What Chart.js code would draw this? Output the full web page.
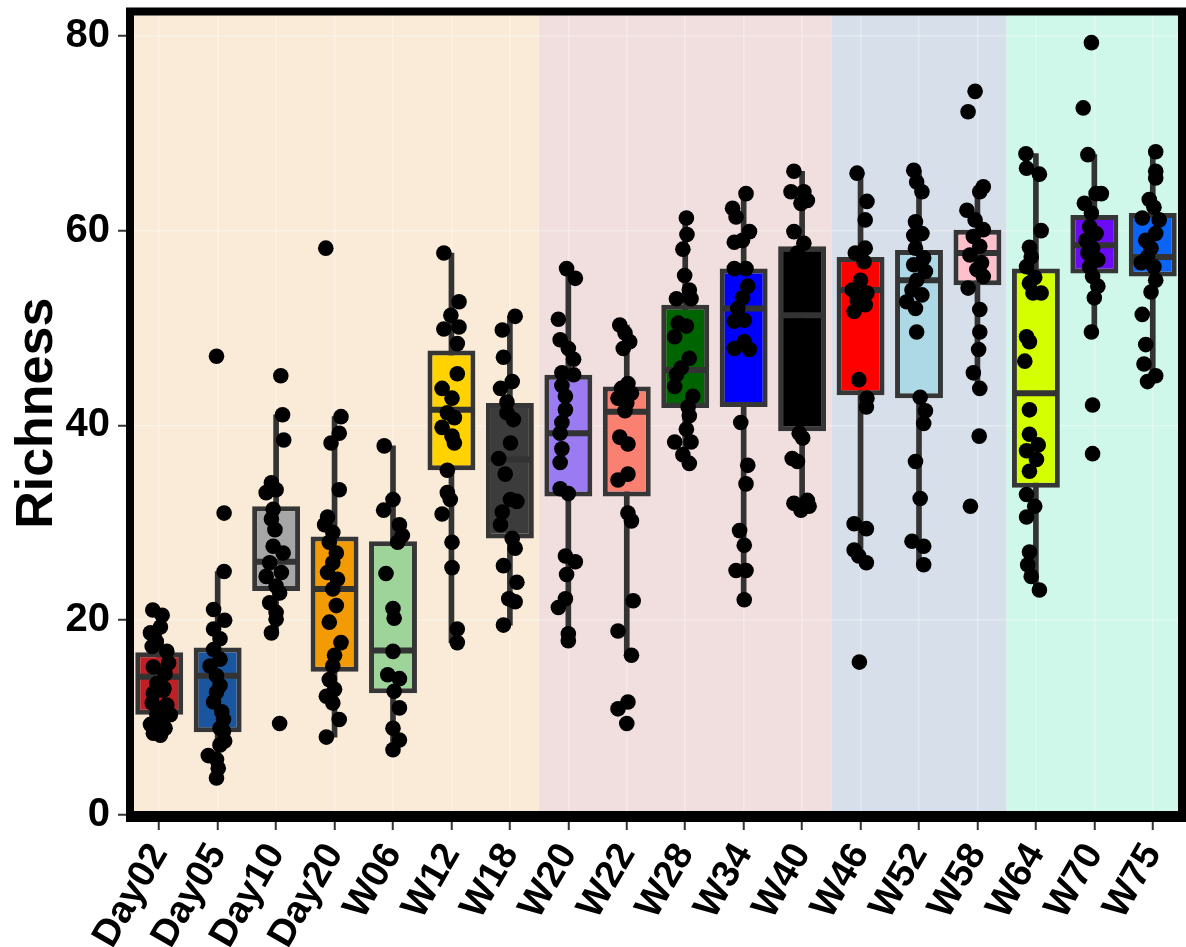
<!DOCTYPE html>
<html>
<head>
<meta charset="utf-8">
<script src="https://cdn.jsdelivr.net/npm/chart.js@4/dist/chart.umd.min.js"></script>
<style>
  html, body { margin: 0; padding: 0; background: #fff; }
  #wrap { width: 1186px; height: 947px; }
</style>
</head>
<body>
<div id="wrap"><canvas id="richness" width="1186" height="947"></canvas></div>
<script>
// sampling points on the x axis
const groups = ["Day02", "Day05", "Day10", "Day20", "W06", "W12", "W18", "W20", "W22",
                "W28", "W34", "W40", "W46", "W52", "W58", "W64", "W70", "W75"];

// box statistics
const q1        = [10.3,  8.5, 23.0, 14.7, 12.5, 35.4, 28.4, 32.7, 32.7, 41.8, 41.9, 39.4, 43.1, 42.8, 54.4, 33.6, 55.6, 55.3];
const q3        = [16.7, 17.2, 31.7, 28.6, 28.1, 47.7, 42.3, 45.2, 44.0, 52.4, 56.1, 58.4, 57.3, 58.0, 60.1, 56.1, 61.6, 61.8];
const medians   = [14.2, 14.3, 26.0, 23.2, 16.9, 41.6, 36.5, 39.2, 41.4, 45.7, 52.0, 51.3, 53.9, 54.9, 57.7, 43.3, 58.5, 57.3];
const whiskerLo = [ 8.2,  3.8, 18.7,  8.0,  6.7, 17.7, 19.5, 17.9, 16.4, 36.1, 22.1, 31.3, 25.9, 25.7, 43.8, 23.1, 49.6, 44.5];
const whiskerHi = [21.0, 25.0, 41.1, 40.9, 37.9, 57.7, 51.2, 56.1, 50.3, 61.3, 63.8, 66.1, 65.9, 66.2, 64.5, 67.9, 67.8, 68.1];

const boxColors = ["#BE2026", "#1A56A0", "#A6A6A6", "#F29B05", "#9ED39A", "#FFD200", "#3C3C3C",
                   "#9B7BF2", "#FA8072", "#006400", "#0000FF", "#000000", "#FF0000", "#ADD8E6",
                   "#FFC0CB", "#D4FF00", "#6B0AF5", "#0A64F5"];

// shaded periods (first / last group index)
const bandStart  = [0, 7, 12, 15];
const bandEnd    = [6, 11, 14, 17];
const bandColors = ["#F9EBD8", "#F1DEDE", "#D7E0EA", "#CFF8EA"];

// jittered samples per group: [x offset within the group, richness]
const points = [
  // Day02
  [[-0.11,21.05],[0.05,20.5],[0.02,19.3],[-0.15,18.7],[-0.05,17.8],[-0.12,17.3],[0.13,16.8],[0.16,15.6],[-0.1,15.2],
   [0.1,14.5],[-0.04,13.5],[0.08,13.0],[0.07,12.8],[-0.1,12.5],[-0.12,11.5],[0.13,11.3],[0.02,10.8],[-0.04,10.3],
   [0.19,10.3],[0.05,9.8],[-0.15,9.3],[0.1,8.9],[-0.1,8.4],[0.02,8.2]],
  // Day05
  [[-0.02,47.1],[0.11,31.0],[0.11,25.0],[-0.07,21.1],[0.12,20.0],[-0.07,19.1],[0.04,18.1],[-0.07,17.0],[0.04,16.0],
   [-0.13,15.3],[-0.02,14.3],[0.04,13.3],[-0.02,12.6],[-0.07,11.6],[0.07,10.6],[0.1,9.8],[0.04,8.9],[0.1,8.6],
   [0.12,7.6],[0.04,7.2],[-0.16,6.1],[-0.02,5.7],[0.01,4.8],[-0.02,3.8]],
  // Day10
  [[0.08,45.1],[0.11,41.1],[0.13,38.5],[-0.08,34.1],[0.0,33.4],[-0.17,33.1],[-0.05,31.4],[-0.08,30.4],[-0.02,29.3],
   [-0.05,27.6],[0.12,26.9],[-0.11,25.9],[0.09,24.9],[-0.17,24.5],[0.0,23.5],[0.06,22.8],[-0.11,21.8],[0.0,20.8],
   [0.0,20.1],[-0.08,18.7],[0.06,9.4]],
  // Day20
  [[-0.15,58.2],[0.11,40.9],[0.08,39.2],[-0.06,38.2],[0.08,33.4],[-0.12,30.6],[-0.17,29.8],[-0.03,29.0],[-0.09,28.0],
   [0.03,26.9],[-0.03,25.9],[-0.12,24.9],[0.05,24.2],[-0.03,23.2],[0.03,21.5],[-0.09,19.8],[0.11,17.7],[0.0,16.4],
   [-0.03,15.3],[-0.09,13.9],[0.0,12.9],[-0.14,12.2],[-0.03,11.5],[0.08,9.8],[-0.14,8.0]],
  // W06
  [[-0.15,37.9],[0.0,32.4],[-0.16,31.3],[0.11,29.8],[0.16,28.7],[0.08,28.0],[-0.12,24.8],[0.0,21.2],[0.02,20.2],
   [0.0,16.8],[-0.09,14.4],[0.11,14.0],[0.02,12.7],[0.11,11.0],[0.0,8.9],[0.11,7.7],[0.0,6.7]],
  // W12
  [[-0.13,57.7],[0.13,52.7],[-0.01,51.3],[-0.13,49.9],[0.13,50.1],[0.1,48.4],[0.1,45.3],[-0.16,43.8],[0.01,42.8],
   [-0.07,41.3],[0.05,40.8],[-0.16,39.8],[0.01,38.9],[0.05,38.2],[-0.07,35.4],[-0.07,33.1],[-0.02,32.4],[-0.16,30.9],
   [0.01,28.0],[0.01,25.4],[0.1,19.1],[0.1,17.7]],
  // W18
  [[0.09,51.2],[-0.13,49.8],[-0.11,47.0],[0.04,44.5],[-0.16,43.8],[-0.05,42.4],[-0.05,41.3],[0.06,40.6],[0.01,38.2],
   [-0.19,36.6],[-0.08,35.0],[0.01,32.4],[0.12,32.2],[-0.13,31.1],[-0.16,29.8],[0.04,28.4],[0.09,27.4],[-0.11,25.6],
   [0.12,23.9],[-0.02,22.2],[0.09,21.9],[-0.11,19.5]],
  // W20
  [[-0.03,56.1],[0.12,55.1],[-0.17,50.9],[-0.14,48.8],[0.0,47.9],[0.09,46.8],[-0.11,45.4],[0.09,45.2],[-0.11,44.1],
   [-0.05,43.0],[-0.05,41.6],[-0.11,40.3],[-0.14,39.2],[-0.11,37.6],[-0.14,36.2],[-0.14,33.5],[0.0,33.0],[-0.05,26.6],
   [0.12,26.0],[-0.03,24.7],[-0.05,22.2],[-0.17,21.3],[0.0,18.6],[0.0,17.9]],
  // W22
  [[-0.12,50.3],[-0.03,49.5],[0.05,48.6],[-0.06,47.9],[0.02,44.3],[-0.09,43.8],[0.08,43.3],[-0.15,42.8],[0.0,42.3],
   [-0.03,41.5],[-0.12,38.8],[0.02,38.1],[0.02,35.0],[-0.15,34.4],[0.02,31.0],[0.08,30.2],[0.11,22.0],[-0.15,18.9],
   [0.08,16.4],[0.02,11.6],[-0.15,10.9],[0.0,9.4]],
  // W28
  [[0.02,61.3],[0.03,59.6],[-0.04,58.1],[-0.01,55.4],[0.07,53.9],[-0.15,53.0],[0.1,53.0],[-0.12,50.5],[0.02,50.2],
   [-0.18,49.1],[0.07,46.9],[-0.07,45.9],[-0.15,45.2],[-0.18,44.0],[0.13,43.0],[0.05,41.9],[0.07,41.0],[0.02,39.6],
   [0.1,38.3],[-0.18,38.3],[-0.04,37.0],[0.07,36.1]],
  // W34
  [[0.04,63.8],[-0.19,62.3],[-0.13,61.4],[0.1,59.9],[-0.16,58.8],[-0.02,59.0],[-0.16,56.1],[0.04,56.1],[0.07,54.3],
   [-0.02,53.1],[-0.1,52.0],[0.01,50.8],[-0.16,50.7],[0.01,48.6],[-0.16,47.9],[0.1,47.8],[-0.05,40.3],[0.07,35.9],
   [0.04,34.0],[-0.07,29.2],[0.01,27.7],[-0.13,25.1],[0.04,25.1],[0.01,22.1]],
  // W40
  [[-0.14,66.1],[-0.19,64.0],[0.03,64.0],[0.09,63.1],[-0.02,62.8],[-0.14,59.9],[0.03,58.7],[-0.08,57.7],[-0.05,56.3],
   [-0.14,54.3],[0.03,52.9],[-0.02,50.2],[-0.11,47.8],[0.01,46.1],[-0.08,43.3],[0.03,41.2],[-0.05,39.2],[0.01,38.7],
   [-0.17,36.6],[-0.08,36.3],[-0.14,32.0],[0.09,32.3],[-0.02,31.3],[0.12,31.7]],
  // W46
  [[-0.06,65.9],[0.11,63.0],[0.08,61.1],[0.08,58.2],[-0.09,57.7],[0.06,56.8],[0.0,54.9],[-0.14,53.9],[0.11,53.6],
   [-0.06,52.9],[0.08,52.4],[-0.11,51.7],[-0.03,44.7],[0.11,42.8],[0.1,41.9],[-0.11,29.9],[0.1,29.4],[-0.11,27.2],
   [-0.03,26.6],[0.1,25.9],[-0.02,15.7]],
  // W52
  [[-0.09,66.2],[-0.04,65.0],[0.05,64.0],[-0.06,60.9],[0.05,59.7],[-0.09,59.5],[-0.06,58.2],[0.08,57.2],[-0.09,56.5],
   [0.11,55.8],[-0.04,54.9],[-0.12,53.9],[0.05,53.4],[-0.21,52.7],[-0.06,52.0],[-0.04,49.6],[0.02,42.9],[0.11,41.5],
   [0.08,40.2],[-0.06,36.3],[0.02,32.5],[-0.12,28.1],[0.08,27.6],[0.08,25.7]],
  // W58
  [[-0.04,74.3],[-0.16,72.2],[0.1,64.5],[0.04,64.0],[-0.18,62.1],[-0.04,61.1],[0.1,60.1],[-0.07,59.4],[0.04,58.4],
   [-0.13,57.5],[0.07,56.7],[-0.01,56.0],[0.1,55.3],[-0.16,54.1],[0.04,51.9],[0.04,49.6],[0.02,47.8],[-0.07,45.4],
   [0.04,43.8],[0.03,38.9],[-0.12,31.7]],
  // W64
  [[-0.17,67.9],[-0.16,66.4],[0.06,65.8],[0.09,60.0],[-0.11,58.3],[-0.08,57.3],[-0.16,56.3],[-0.02,55.2],[-0.11,54.6],
   [-0.05,53.6],[0.09,53.6],[-0.16,49.1],[-0.11,48.6],[-0.19,46.6],[-0.11,41.6],[-0.11,39.1],[0.04,38.0],[-0.16,37.4],
   [0.01,36.5],[-0.11,35.3],[-0.16,32.9],[-0.02,31.7],[-0.16,30.6],[-0.11,27.0],[-0.14,25.7],[-0.08,24.5],[0.06,23.1]],
  // W70
  [[-0.05,79.3],[-0.19,72.6],[-0.11,67.8],[0.03,63.8],[0.12,63.8],[-0.17,62.8],[-0.05,61.8],[-0.08,60.4],[0.03,59.7],
   [-0.14,59.0],[-0.03,58.2],[-0.11,57.7],[0.06,57.0],[-0.08,56.3],[-0.03,55.3],[0.06,54.3],[0.0,53.1],[-0.05,49.6],
   [-0.03,42.1],[-0.03,37.1]],
  // W75
  [[0.05,68.1],[0.05,66.1],[0.05,65.4],[-0.06,63.2],[0.02,62.4],[-0.18,61.3],[0.11,61.1],[0.05,59.7],[-0.12,59.0],
   [-0.03,58.2],[-0.09,57.3],[-0.2,56.7],[0.02,56.3],[0.05,54.9],[-0.03,53.7],[-0.18,51.4],[-0.12,48.3],[-0.15,46.3],
   [0.05,45.1],[-0.09,44.5]]
];

const yTicks = [0, 20, 40, 60, 80];

const FONT = "'Liberation Sans', Arial, Helvetica, sans-serif";
const LINE = "#333333";

const scatterData = [];
points.forEach((grp, i) => grp.forEach((p) => scatterData.push({ x: i + p[0], y: p[1] })));

// shaded periods behind everything, medians over the boxes, thick frame on top
const bandsPlugin = {
  id: "bands",
  beforeDraw(chart) {
    const { ctx, chartArea: a, scales: { x } } = chart;
    const step = x.getPixelForValue(1) - x.getPixelForValue(0);
    ctx.save();
    bandStart.forEach((s, k) => {
      const l = k === 0 ? a.left : x.getPixelForValue(s) - step / 2;
      const r = k === bandEnd.length - 1 ? a.right : x.getPixelForValue(bandEnd[k]) + step / 2;
      ctx.fillStyle = bandColors[k];
      ctx.fillRect(l, a.top, r - l, a.bottom - a.top);
    });
    ctx.restore();
  },
  afterDatasetDraw(chart, args) {
    if (args.index !== 1) return;
    const { ctx, scales: { y } } = chart;
    ctx.save();
    ctx.strokeStyle = LINE;
    ctx.lineWidth = 6;
    args.meta.data.forEach((bar, i) => {
      const py = y.getPixelForValue(medians[i]);
      ctx.beginPath();
      ctx.moveTo(bar.x - bar.width / 2 + 3, py);
      ctx.lineTo(bar.x + bar.width / 2 - 3, py);
      ctx.stroke();
    });
    ctx.restore();
  },
  afterDraw(chart) {
    const { ctx, chartArea: a } = chart;
    ctx.save();
    ctx.strokeStyle = "#000";
    ctx.lineWidth = 8;
    ctx.strokeRect(a.left, a.top, a.right - a.left, a.bottom - a.top);
    ctx.lineWidth = 11;
    ctx.beginPath();
    ctx.moveTo(a.left - 4, a.bottom + 1.5);
    ctx.lineTo(a.right + 4, a.bottom + 1.5);
    ctx.stroke();
    ctx.restore();
  }
};

function noPad(s) { s.paddingTop = 0; s.paddingBottom = 0; s.paddingLeft = 0; s.paddingRight = 0; }

new Chart(document.getElementById("richness").getContext("2d"), {
  data: {
    labels: groups,
    datasets: [
      {
        type: "bar", label: "whiskers", order: 3, grouped: false,
        data: groups.map((g, i) => [whiskerLo[i], whiskerHi[i]]),
        backgroundColor: LINE, borderWidth: 0, barThickness: 5,
      },
      {
        type: "bar", label: "boxes", order: 2, grouped: false,
        data: groups.map((g, i) => [q1[i], q3[i]]),
        backgroundColor: boxColors, borderColor: "#363636", borderWidth: 5, borderSkipped: false,
        categoryPercentage: 0.82, barPercentage: 1,
      },
      {
        type: "scatter", label: "samples", order: 0, xAxisID: "xj",
        data: scatterData,
        pointRadius: 7.8, pointBackgroundColor: "#000", pointBorderWidth: 0,
      },
    ],
  },
  options: {
    responsive: false, animation: false,
    layout: { autoPadding: false, padding: { top: 11.5, right: 4, left: 0, bottom: 0 } },
    plugins: { legend: { display: false }, tooltip: { enabled: false } },
    scales: {
      x: {
        type: "category", offset: true,
        grid: { offset: false, color: "rgba(255,255,255,0.3)", lineWidth: 1.5, tickColor: LINE, tickLength: 15, tickWidth: 2 },
        border: { display: false },
        ticks: { color: "#000", font: { family: FONT, size: 38, weight: "bold" }, maxRotation: 60, minRotation: 60, autoSkip: false, padding: 6 },
        afterFit(s) { s.height = 132; noPad(s); },
      },
      xj: { type: "linear", min: -0.5, max: 17.5, display: false },
      y: {
        min: 0, max: 82.5,
        afterBuildTicks(s) { s.ticks = yTicks.map((v) => ({ value: v })); },
        grid: { color: "rgba(255,255,255,0.3)", lineWidth: 1.5, tickColor: LINE, tickLength: 12, tickWidth: 2 },
        border: { display: false },
        ticks: { color: "#000", font: { family: FONT, size: 40, weight: "bold" }, padding: 8 },
        title: { display: true, text: "Richness", color: "#000", font: { family: FONT, size: 52, weight: "bold" }, padding: { top: 6, bottom: 0 } },
        afterFit(s) { s.width = 130; noPad(s); },
      },
    },
  },
  plugins: [bandsPlugin],
});
</script>
</body>
</html>
